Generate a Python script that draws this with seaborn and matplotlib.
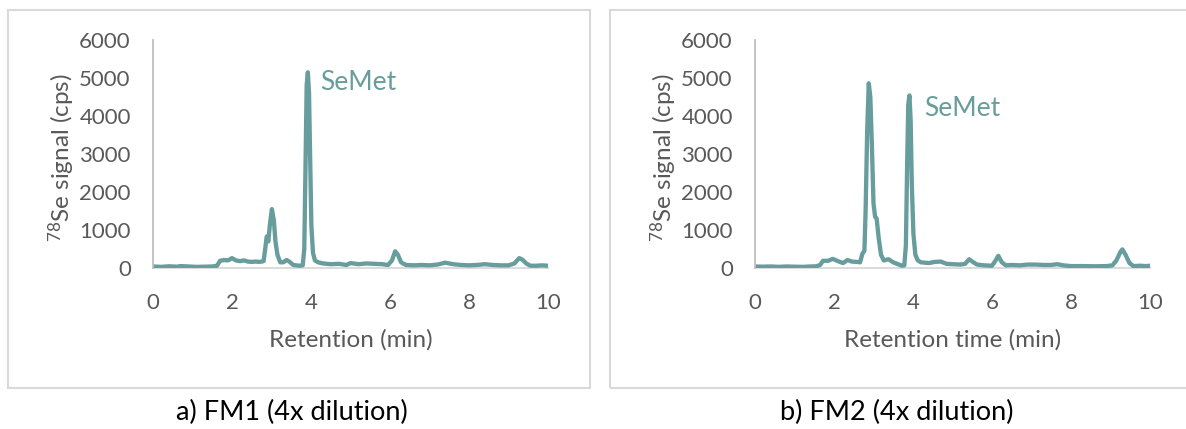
import matplotlib
matplotlib.use("Agg")
import matplotlib.pyplot as plt
import seaborn as sns
import pandas as pd
from matplotlib.patches import Rectangle

# ---- data ----
fm1_time = [0.0, 0.2, 0.4, 0.6, 0.7, 0.9, 1.1, 1.3, 1.5, 1.62, 1.7, 1.8, 1.9, 2.0, 2.1, 2.2,
            2.3, 2.4, 2.5, 2.6, 2.7, 2.8, 2.84, 2.88, 2.92, 2.96, 3.01, 3.06, 3.1, 3.15, 3.22,
            3.3, 3.38, 3.45, 3.55, 3.7, 3.79, 3.83, 3.86, 3.89, 3.92, 3.95, 3.98, 4.01, 4.05,
            4.1, 4.18, 4.3, 4.5, 4.7, 4.9, 5.0, 5.2, 5.4, 5.6, 5.8, 5.95, 6.05, 6.13, 6.2,
            6.28, 6.4, 6.6, 6.8, 7.0, 7.2, 7.4, 7.6, 7.8, 8.0, 8.2, 8.4, 8.6, 8.8, 9.0, 9.15,
            9.27, 9.35, 9.45, 9.55, 9.7, 9.85, 10.0]
fm1_signal = [40, 30, 45, 35, 50, 40, 30, 35, 40, 60, 190, 210, 200, 260, 200, 180,
              200, 170, 160, 170, 160, 180, 500, 830, 700, 1150, 1550, 1250, 700, 350, 150,
              150, 210, 170, 80, 60, 70, 500, 2600, 4800, 5150, 4600, 2800, 1100, 400,
              200, 150, 120, 100, 110, 80, 130, 100, 120, 110, 100, 80, 200, 440, 350,
              150, 80, 70, 80, 70, 90, 140, 100, 80, 70, 80, 100, 80, 70, 70, 120,
              260, 220, 120, 60, 60, 70, 60]

fm2_time = [0.0, 0.2, 0.4, 0.6, 0.8, 1.0, 1.2, 1.4, 1.55, 1.65, 1.72, 1.85, 1.97, 2.1, 2.23,
            2.34, 2.45, 2.58, 2.66, 2.72, 2.77, 2.8, 2.84, 2.88, 2.92, 2.96, 3.0, 3.04, 3.08,
            3.13, 3.19, 3.26, 3.38, 3.5, 3.62, 3.72, 3.78, 3.82, 3.85, 3.88, 3.91, 3.94, 3.97,
            4.01, 4.06, 4.12, 4.2, 4.4, 4.55, 4.7, 4.85, 5.0, 5.2, 5.32, 5.42, 5.5, 5.62, 5.8,
            6.0, 6.08, 6.16, 6.25, 6.35, 6.5, 6.7, 6.9, 7.1, 7.3, 7.5, 7.65, 7.8, 8.0, 8.3,
            8.6, 8.9, 9.05, 9.15, 9.25, 9.3, 9.38, 9.48, 9.58, 9.75, 9.9, 10.0]
fm2_signal = [40, 35, 40, 30, 40, 35, 30, 40, 45, 80, 190, 190, 240, 180, 130,
              210, 170, 160, 150, 380, 450, 1500, 3600, 4860, 4500, 3200, 1700, 1350, 1300,
              800, 350, 200, 230, 150, 100, 60, 70, 600, 2600, 4300, 4540, 3900, 2200,
              900, 350, 200, 150, 130, 160, 170, 110, 100, 90, 110, 230, 170, 90, 70,
              60, 180, 320, 150, 70, 80, 70, 90, 90, 80, 80, 100, 70, 50, 50,
              45, 50, 70, 200, 420, 490, 350, 130, 50, 60, 50, 60]

x_ticks = [0, 2, 4, 6, 8, 10]
y_ticks = [0, 1000, 2000, 3000, 4000, 5000, 6000]
x_labels = ["Retention (min)", "Retention time (min)"]
captions = ["a) FM1 (4x dilution)", "b) FM2 (4x dilution)"]
peak_label = "SeMet"
peak_label_pos = [(4.23, 4870), (4.28, 4210)]

# ---- style ----
sns.set_style("white")
plt.rcParams["font.family"] = ["Lato", "DejaVu Sans"]
plt.rcParams["mathtext.fontset"] = "custom"
plt.rcParams["mathtext.rm"] = "Lato"
plt.rcParams["mathtext.it"] = "Lato:italic"

LINE = "#679d9c"
TXT = "#595959"
W, H = 1186, 429

fig = plt.figure(figsize=(W / 100, H / 100), dpi=100)

# panel borders
for x0, x1 in [(8, 590), (610, 1192)]:
    fig.add_artist(Rectangle((x0 / W, 1 - 388 / H), (x1 - x0) / W, (388 - 10) / H,
                             transform=fig.transFigure, fill=False,
                             edgecolor="#d9d9d9", linewidth=1.5))

panels = [
    (153, fm1_time, fm1_signal),
    (755, fm2_time, fm2_signal),
]

for i, (left_px, t, s) in enumerate(panels):
    ax = fig.add_axes([left_px / W, 1 - 268 / H, 395 / W, 228 / H])
    df = pd.DataFrame({"time": t, "signal": s})
    sns.lineplot(data=df, x="time", y="signal", ax=ax, color=LINE, linewidth=3.1,
                 solid_joinstyle="round", solid_capstyle="round", sort=False)
    ax.set_xlim(0, 10)
    ax.set_ylim(0, 6000)
    ax.set_xticks(x_ticks)
    ax.set_yticks(y_ticks)
    ax.tick_params(axis="both", length=0, labelsize=16, labelcolor=TXT)
    ax.tick_params(axis="x", pad=18)
    ax.tick_params(axis="y", pad=16)
    for side in ["top", "right"]:
        ax.spines[side].set_visible(False)
    ax.spines["left"].set_color("#bfbfbf")
    ax.spines["left"].set_linewidth(1.3)
    ax.spines["bottom"].set_color("#d9d9d9")
    ax.spines["bottom"].set_linewidth(1.3)
    ax.spines["bottom"].set_zorder(0)

    ax.set_xlabel(x_labels[i], fontsize=17.5, color=TXT, va="center")
    ax.xaxis.set_label_coords(0.5, -0.316)
    ax.set_ylabel(r"$\mathregular{^{78}}$Se signal (cps)", fontsize=17.5, color=TXT,
                  va="center", ha="center")
    ax.yaxis.set_label_coords(-0.232, 0.482)

    px, py = peak_label_pos[i]
    ax.text(px, py, peak_label, color=LINE, fontsize=19, ha="left", va="center")

    fig.text([292, 897][i] / W, 1 - 412 / H, captions[i], fontsize=19.5,
             color="black", ha="center", va="center")

fig.savefig("out.png", dpi=100)
